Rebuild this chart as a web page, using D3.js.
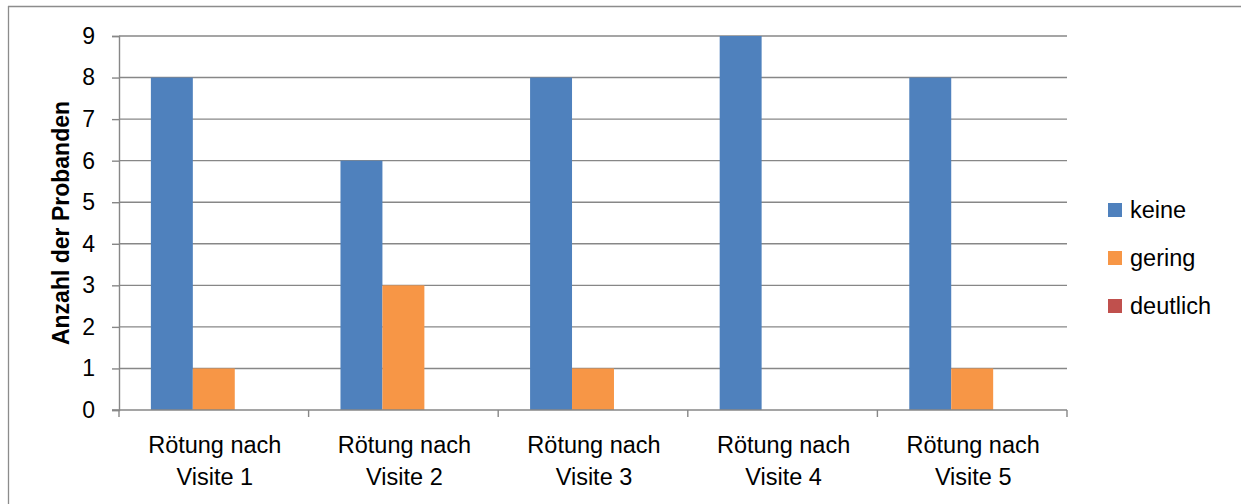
<!DOCTYPE html>
<html><head><meta charset="utf-8">
<script src="https://cdn.jsdelivr.net/npm/d3@7"></script>
<style>
html,body{margin:0;padding:0;background:#fff;}
svg{display:block;font-family:"Liberation Sans",Arial,sans-serif;}
</style></head>
<body>
<svg id="chart" width="1241" height="504"></svg>
<script>
const categories = [["Rötung nach","Visite 1"],["Rötung nach","Visite 2"],["Rötung nach","Visite 3"],["Rötung nach","Visite 4"],["Rötung nach","Visite 5"]];
const seriesNames = ["keine","gering","deutlich"];
const keine = [8,6,8,9,8];
const gering = [1,3,1,0,1];
const deutlich = [0,0,0,0,0];
const yTicks = [0,1,2,3,4,5,6,7,8,9];
const colors = ["#4F81BD","#F79646","#C0504D"];

(function(){
const seriesValues = [keine, gering, deutlich];
const svg = d3.select("#chart");

// frame (top and left edges visible)
svg.append("line").attr("x1",8).attr("y1",6.5).attr("x2",1241).attr("y2",6.5).attr("stroke","#8c8c8c").attr("stroke-width",1.3);
svg.append("line").attr("x1",8.5).attr("y1",6).attr("x2",8.5).attr("y2",504).attr("stroke","#8c8c8c").attr("stroke-width",1.3);

const pLeft = 119, pRight = 1067, pTop = 36, pBottom = 410;
const catIdx = categories.map((d,i)=>i);
const x0 = d3.scaleBand().domain(catIdx).range([pLeft,pRight]).padding(0);
const x1 = d3.scaleBand().domain(seriesNames).range([0,x0.bandwidth()]).paddingInner(0).paddingOuter(0.76);
const y = d3.scaleLinear().domain([0,9]).range([pBottom,pTop]);

// gridlines
svg.append("g").selectAll("line").data(yTicks.filter(t=>t>0)).join("line")
  .attr("x1",pLeft).attr("x2",pRight).attr("y1",d=>y(d)).attr("y2",d=>y(d))
  .attr("stroke","#878787").attr("stroke-width",1.4);

// bars
const groups = svg.append("g").selectAll("g").data(catIdx).join("g")
  .attr("transform",i=>`translate(${x0(i)},0)`);
groups.selectAll("rect").data(i=>seriesNames.map((s,k)=>({s,v:seriesValues[k][i],c:colors[k]}))).join("rect")
  .attr("x",d=>x1(d.s)).attr("width",x1.bandwidth())
  .attr("y",d=>y(d.v)).attr("height",d=>y(0)-y(d.v)).attr("fill",d=>d.c);

// y axis
const yAxis = svg.append("g").attr("transform",`translate(${pLeft},0)`)
  .call(d3.axisLeft(y).tickValues(yTicks).tickSize(7).tickPadding(17).tickFormat(d3.format("d")));
yAxis.select(".domain").attr("stroke","#878787").attr("stroke-width",1.4);
yAxis.selectAll(".tick line").attr("stroke","#878787").attr("stroke-width",1.4);
yAxis.selectAll(".tick text").attr("font-size",23).attr("fill","#000").attr("font-family","Liberation Sans, Arial, sans-serif");

// x axis
const xAxisG = svg.append("g").attr("transform",`translate(0,${pBottom})`);
xAxisG.append("line").attr("x1",pLeft-7).attr("x2",pRight).attr("y1",0).attr("y2",0).attr("stroke","#878787").attr("stroke-width",1.4);
const bounds = catIdx.map(i=>x0(i)).concat([pRight]);
xAxisG.selectAll("line.t").data(bounds).join("line").attr("class","t")
  .attr("x1",d=>d).attr("x2",d=>d).attr("y1",0).attr("y2",7).attr("stroke","#878787").attr("stroke-width",1.4);
const labels = xAxisG.selectAll("text").data(catIdx).join("text")
  .attr("x",i=>x0(i)+x0.bandwidth()/2).attr("text-anchor","middle")
  .attr("font-size",23.5).attr("fill","#000");
labels.append("tspan").attr("x",i=>x0(i)+x0.bandwidth()/2+1).attr("y",43).text(i=>categories[i][0]);
labels.append("tspan").attr("x",i=>x0(i)+x0.bandwidth()/2+1).attr("y",75).text(i=>categories[i][1]);

// y title
svg.append("text").attr("transform",`translate(69,223) rotate(-90)`).attr("text-anchor","middle")
  .attr("font-size",23).attr("font-weight","bold").attr("fill","#000").text("Anzahl der Probanden");

// legend
const lg = svg.append("g").selectAll("g").data(seriesNames).join("g")
  .attr("transform",(d,i)=>`translate(1108,${210+i*48})`);
lg.append("rect").attr("x",0).attr("y",-7).attr("width",14).attr("height",14).attr("fill",(d,i)=>colors[i]);
lg.append("text").attr("x",22).attr("y",8).attr("font-size",23.5).attr("fill","#000").text(d=>d);
})();
</script>
</body></html>
